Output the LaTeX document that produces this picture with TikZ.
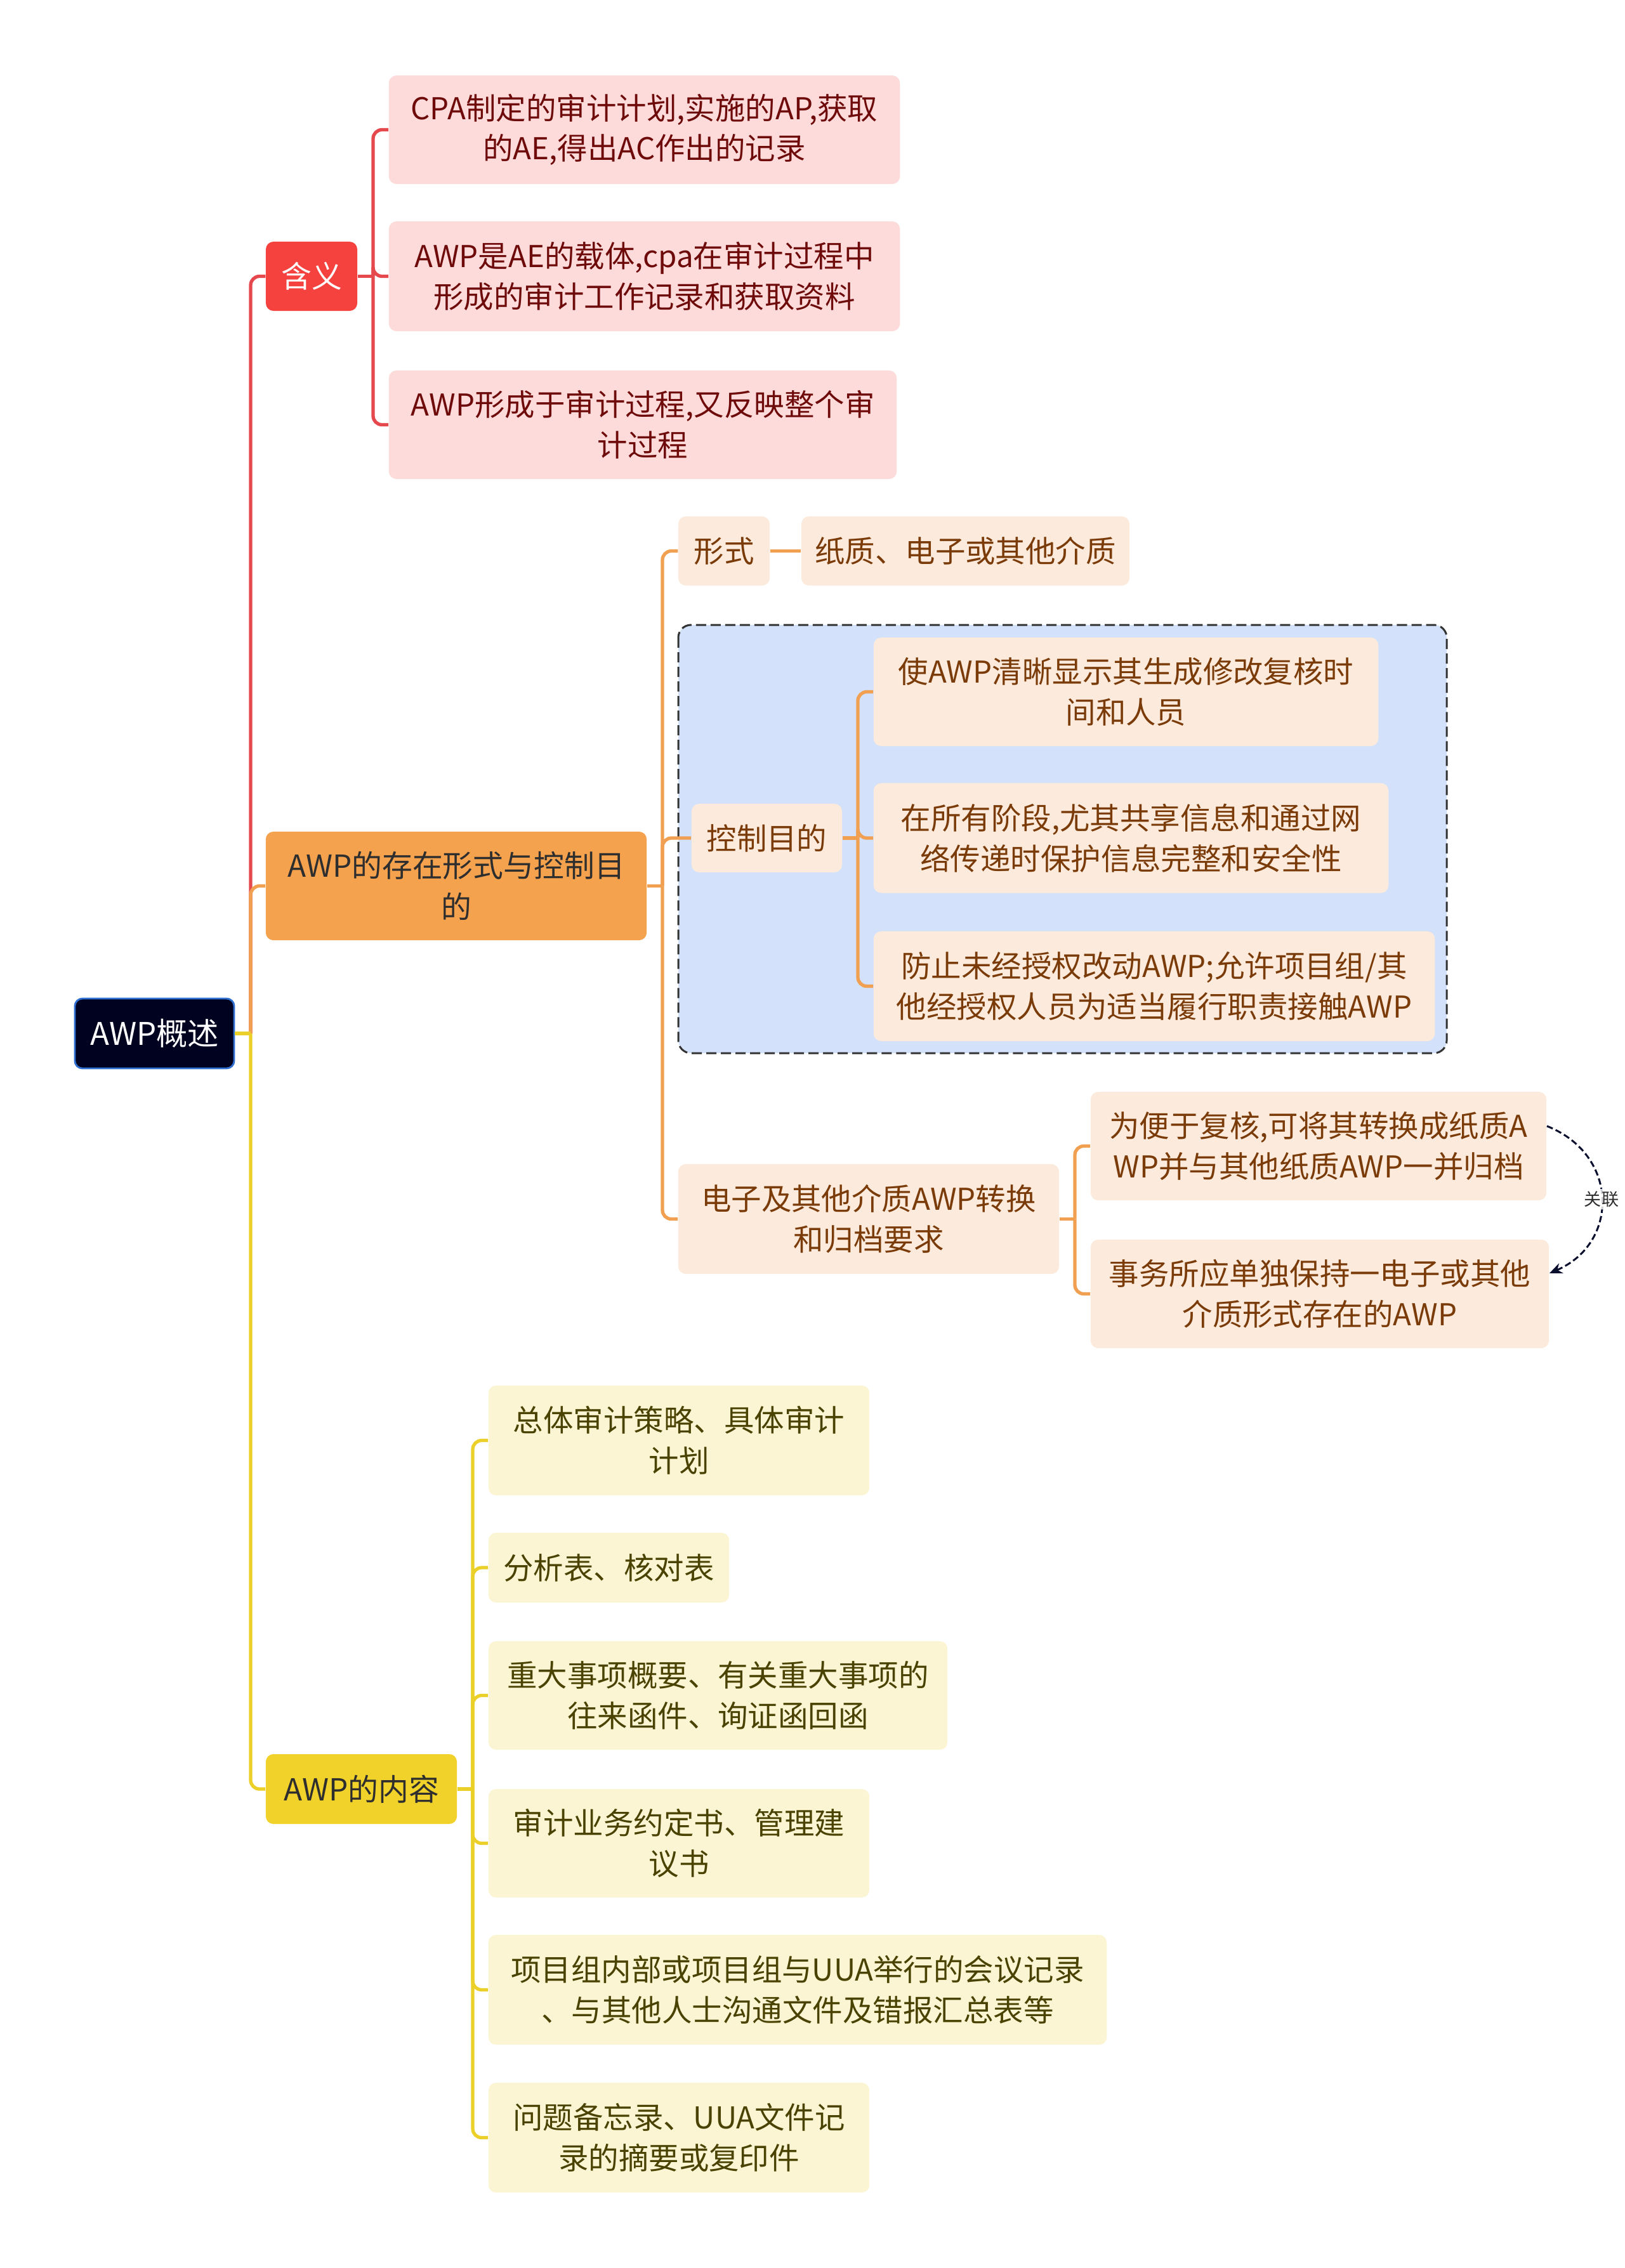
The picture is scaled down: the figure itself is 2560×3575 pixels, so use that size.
\documentclass[tikz,border=0pt]{standalone}
\usepackage{fontspec}
\setmainfont{Noto Sans CJK SC}
\usetikzlibrary{arrows.meta}

% Colours of the three branches
\definecolor{rootnavy}{HTML}{00021F}
\definecolor{rootedge}{HTML}{2F6FD0}
\definecolor{redmain}{HTML}{F5423E}
\definecolor{redlink}{HTML}{E5484D}
\definecolor{pinkfill}{HTML}{FDDBDB}
\definecolor{pinktext}{HTML}{6E0A0A}
\definecolor{orangemain}{HTML}{F5A24E}
\definecolor{orangelink}{HTML}{F0A050}
\definecolor{peachfill}{HTML}{FCEBDC}
\definecolor{peachtext}{HTML}{7A3B09}
\definecolor{groupblue}{HTML}{D3E2FA}
\definecolor{yellowmain}{HTML}{F1D22B}
\definecolor{yellowlink}{HTML}{ECD02A}
\definecolor{creamfill}{HTML}{FBF5D4}
\definecolor{creamtext}{HTML}{4A4200}
\definecolor{darktext}{HTML}{2E2E2E}
\definecolor{relnavy}{HTML}{0A0F2E}

\tikzset{
    every node/.style={align=center, inner sep=0pt, rounded corners=0.12cm},
    boxsize/.style 2 args={minimum width=#1cm, minimum height=#2cm},
    leaffont/.style={font=\fontsize{13.5}{18.1}\selectfont},
    headfont/.style={font=\fontsize{13.6}{18.6}\selectfont},
    rootbox/.style={fill=rootnavy, draw=rootedge, line width=0.8pt, text=white,
        font=\fontsize{14}{19}\selectfont},
    redhead/.style={fill=redmain, text=white, headfont},
    orangehead/.style={fill=orangemain, text=darktext, headfont},
    yellowhead/.style={fill=yellowmain, text=darktext, headfont},
    pinkleaf/.style={fill=pinkfill, text=pinktext, leaffont},
    peachleaf/.style={fill=peachfill, text=peachtext, leaffont},
    creamleaf/.style={fill=creamfill, text=creamtext, leaffont},
    link/.style={line width=1.5pt, rounded corners=0.14cm},
    redline/.style={link, draw=redlink},
    orangeline/.style={link, draw=orangelink},
    yellowline/.style={link, draw=yellowlink},
    groupbox/.style={fill=groupblue, draw=black!80, line width=0.85pt,
        dash pattern=on 0.16cm off 0.07cm, rounded corners=0.2cm},
    relline/.style={draw=relnavy, line width=0.85pt, dash pattern=on 0.1cm off 0.05cm,
        -{Stealth[length=0.2cm, width=0.17cm]}},
    relnote/.style={fill=white, fill opacity=0.8, text opacity=1, text=darktext,
        inner sep=1pt, font=\fontsize{7.7}{9}\selectfont}
}

\begin{document}
\begin{tikzpicture}[x=0.01cm, y=-0.01cm]

    \useasboundingbox (0,0) rectangle (2560,3575);

    % Group frame behind the control purposes
    \draw[groupbox] (1069,985) rectangle (2280,1660);

    % Root and main topics
    \node[rootbox, boxsize={2.51}{1.10}] (root) at (243.5,1629) {AWP概述};
    \node[redhead, boxsize={1.44}{1.09}] (meaning) at (491,435.5) {含义};
    \node[orangehead, boxsize={6.00}{1.71}] (form) at (719,1396.5) {AWP的存在形式与控制目\\的};
    \node[yellowhead, boxsize={3.01}{1.10}] (content) at (569.5,2820) {AWP的内容};

    % Meaning
    \node[pinkleaf, boxsize={8.05}{1.71}] (c1) at (1015.5,204.5) {CPA制定的审计计划,实施的AP,获取\\的AE,得出AC作出的记录};
    \node[pinkleaf, boxsize={8.05}{1.73}] (c2) at (1015.5,435.5) {AWP是AE的载体,cpa在审计过程中\\形成的审计工作记录和获取资料};
    \node[pinkleaf, boxsize={8.00}{1.71}] (c3) at (1013,669.5) {AWP形成于审计过程,又反映整个审\\计过程};

    % Form and control
    \node[peachleaf, boxsize={1.44}{1.09}] (formtype) at (1141,868.5) {形式};
    \node[peachleaf, boxsize={5.17}{1.09}] (mediums) at (1521.5,868.5) {纸质、电子或其他介质};
    \node[peachleaf, boxsize={2.37}{1.08}] (purpose) at (1208.5,1321) {控制目的};
    \node[peachleaf, boxsize={7.95}{1.71}] (p1) at (1774.5,1090.5) {使AWP清晰显示其生成修改复核时\\间和人员};
    \node[peachleaf, boxsize={8.11}{1.73}] (p2) at (1782.5,1321) {在所有阶段,尤其共享信息和通过网\\络传递时保护信息完整和安全性};
    \node[peachleaf, boxsize={8.84}{1.73}] (p3) at (1819,1554.5) {防止未经授权改动AWP;允许项目组/其\\他经授权人员为适当履行职责接触AWP};
    \node[peachleaf, boxsize={6.00}{1.73}] (archive) at (1369,1921.5) {电子及其他介质AWP转换\\和归档要求};
    \node[peachleaf, boxsize={7.18}{1.71}] (e1) at (2078,1806.5) {为便于复核,可将其转换成纸质A\\WP并与其他纸质AWP一并归档};
    \node[peachleaf, boxsize={7.22}{1.71}] (e2) at (2080,2039.5) {事务所应单独保持一电子或其他\\介质形式存在的AWP};

    % Content
    \node[creamleaf, boxsize={6.00}{1.73}] (y1) at (1070,2270.5) {总体审计策略、具体审计\\计划};
    \node[creamleaf, boxsize={3.79}{1.10}] (y2) at (959.5,2471) {分析表、核对表};
    \node[creamleaf, boxsize={7.23}{1.71}] (y3) at (1131.5,2672.5) {重大事项概要、有关重大事项的\\往来函件、询证函回函};
    \node[creamleaf, boxsize={6.00}{1.71}] (y4) at (1070,2905.5) {审计业务约定书、管理建\\议书};
    \node[creamleaf, boxsize={9.74}{1.73}] (y5) at (1257,3136.5) {项目组内部或项目组与UUA举行的会议记录\\、与其他人士沟通文件及错报汇总表等};
    \node[creamleaf, boxsize={6.00}{1.73}] (y6) at (1070,3369.5) {问题备忘录、UUA文件记\\录的摘要或复印件};

    % Main branches from the root
    \coordinate (rootfork) at (395,1629);
    \draw[redline] (rootfork) |- (meaning.west);
    \draw[orangeline] (rootfork) |- (form.west);
    \draw[yellowline] (rootfork) |- (content.west);
    \draw[yellowline] (root.east) -- (rootfork);

    % Meaning branch
    \coordinate (meaningfork) at (588,435.5);
    \draw[redline] (meaning.east) -- (meaningfork);
    \foreach \leaf in {c1,c2,c3}
        \draw[redline] (meaningfork) |- (\leaf.west);

    % Form branch
    \coordinate (formfork) at (1044,1396.5);
    \draw[orangeline] (form.east) -- (formfork);
    \foreach \leaf in {formtype,purpose,archive}
        \draw[orangeline] (formfork) |- (\leaf.west);
    \draw[orangeline] (formtype.east) -- (mediums.west);

    \coordinate (purposefork) at (1352,1321);
    \draw[orangeline] (purpose.east) -- (purposefork);
    \foreach \leaf in {p1,p2,p3}
        \draw[orangeline] (purposefork) |- (\leaf.west);

    \coordinate (archivefork) at (1694,1921.5);
    \draw[orangeline] (archive.east) -- (archivefork);
    \foreach \leaf in {e1,e2}
        \draw[orangeline] (archivefork) |- (\leaf.west);

    % Content branch
    \coordinate (contentfork) at (745,2820);
    \draw[yellowline] (content.east) -- (contentfork);
    \foreach \leaf in {y1,y2,y3,y4,y5,y6}
        \draw[yellowline] (contentfork) |- (\leaf.west);

    % Relation between the two archive rules
    \draw[relline] ([yshift=0.315cm]e1.east) .. controls (2552,1820) and (2552,1960) .. ([yshift=0.325cm]e2.east)
        node[pos=0.5, relnote] (relabel) {关联};

\end{tikzpicture}
\end{document}
